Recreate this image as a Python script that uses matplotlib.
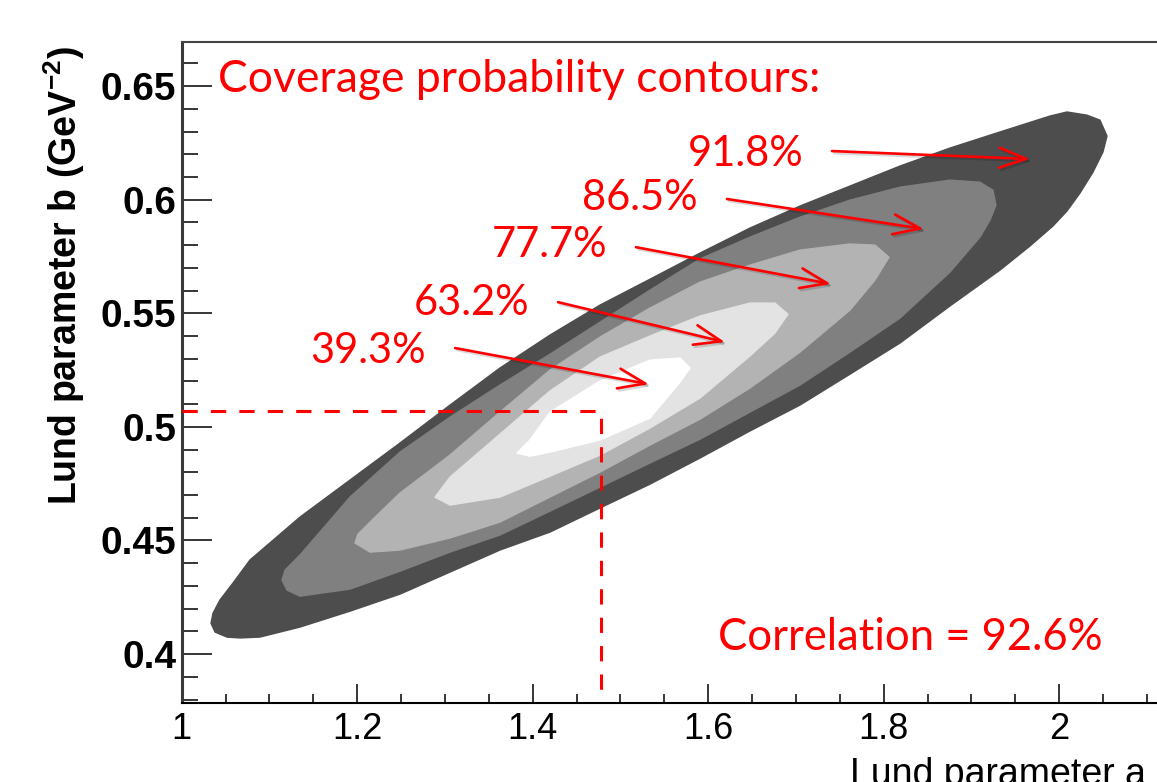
import numpy as np
import matplotlib
matplotlib.use("Agg")
import matplotlib.pyplot as plt
import matplotlib.patheffects as pe
from matplotlib.ticker import MultipleLocator, FormatStrFormatter

plt.rcParams['mathtext.fontset'] = 'custom'
plt.rcParams['mathtext.rm'] = 'Liberation Sans:bold'
plt.rcParams['mathtext.default'] = 'regular'

# best fit (dashed red lines)
a_best = 1.478
b_best = 0.507

# coverage probability contours (outermost first)
levels = ["91.8%", "86.5%", "77.7%", "63.2%", "39.3%"]
shades = ["#4d4d4d", "#808080", "#b3b3b3", "#e3e3e3", "#ffffff"]

a_918 = [1.0334, 1.0380, 1.0516, 1.0664, 1.0892, 1.1348, 1.1918, 1.2488, 1.3058, 1.3627,
         1.4197, 1.4767, 1.5337, 1.5907, 1.6476, 1.7046, 1.7616, 1.8186, 1.8755, 1.9325,
         1.9667, 1.9929, 2.0089, 2.0237, 2.0385, 2.0499, 2.0545, 2.0465, 2.0317, 2.0089,
         1.9895, 1.9325, 1.8755, 1.8186, 1.7616, 1.7046, 1.6476, 1.5907, 1.5337, 1.4767,
         1.4197, 1.3627, 1.3058, 1.2488, 1.1918, 1.1348, 1.0778, 1.0585, 1.0436, 1.0357]
b_918 = [0.4136, 0.4097, 0.4075, 0.4071, 0.4075, 0.4119, 0.4189, 0.4264, 0.4361, 0.4458,
         0.4537, 0.4643, 0.4748, 0.4863, 0.4982, 0.5096, 0.5232, 0.5369, 0.5532, 0.5690,
         0.5796, 0.5884, 0.5950, 0.6029, 0.6121, 0.6210, 0.6280, 0.6350, 0.6372, 0.6386,
         0.6368, 0.6298, 0.6227, 0.6148, 0.6060, 0.5972, 0.5875, 0.5765, 0.5650, 0.5536,
         0.5404, 0.5259, 0.5096, 0.4929, 0.4766, 0.4603, 0.4414, 0.4313, 0.4238, 0.4180]

a_865 = [1.1143, 1.1200, 1.1348, 1.1918, 1.2488, 1.3058, 1.3627, 1.4197, 1.4767, 1.5337,
         1.5907, 1.6476, 1.7046, 1.7616, 1.8186, 1.8755, 1.9097, 1.9212, 1.9280, 1.9245,
         1.9097, 1.8755, 1.8186, 1.7616, 1.7046, 1.6476, 1.5907, 1.5337, 1.4767, 1.4197,
         1.3627, 1.3058, 1.2488, 1.1918, 1.1348, 1.1178]
b_865 = [0.4326, 0.4282, 0.4255, 0.4286, 0.4365, 0.4449, 0.4524, 0.4629, 0.4735, 0.4841,
         0.4946, 0.5065, 0.5184, 0.5329, 0.5479, 0.5681, 0.5835, 0.5910, 0.5976, 0.6042,
         0.6077, 0.6086, 0.6055, 0.5998, 0.5923, 0.5835, 0.5739, 0.5602, 0.5461, 0.5320,
         0.5184, 0.5043, 0.4889, 0.4691, 0.4436, 0.4370]

a_777 = [1.1975, 1.2146, 1.2488, 1.3058, 1.3627, 1.4197, 1.4767, 1.5337, 1.5907, 1.6476,
         1.7046, 1.7616, 1.7901, 1.8061, 1.7901, 1.7616, 1.7046, 1.6476, 1.5907, 1.5337,
         1.4767, 1.4197, 1.3627, 1.3058, 1.2488, 1.2146, 1.2009]
b_777 = [0.4489, 0.4449, 0.4458, 0.4511, 0.4581, 0.4691, 0.4801, 0.4920, 0.5034, 0.5171,
         0.5329, 0.5514, 0.5646, 0.5747, 0.5800, 0.5805, 0.5778, 0.5712, 0.5637, 0.5523,
         0.5395, 0.5250, 0.5065, 0.4876, 0.4709, 0.4581, 0.4528]

a_632 = [1.2887, 1.3058, 1.3627, 1.4197, 1.4767, 1.5337, 1.5907, 1.6476, 1.6761, 1.6909,
         1.6761, 1.6476, 1.5907, 1.5337, 1.4767, 1.4197, 1.3627, 1.3058]
b_632 = [0.4691, 0.4656, 0.4691, 0.4783, 0.4876, 0.4995, 0.5127, 0.5312, 0.5413, 0.5496,
         0.5545, 0.5545, 0.5488, 0.5400, 0.5307, 0.5158, 0.4968, 0.4779]

a_393 = [1.3821, 1.3969, 1.4197, 1.4767, 1.5337, 1.5679, 1.5793, 1.5679, 1.5337, 1.4767,
         1.4197, 1.3969]
b_393 = [0.4885, 0.4871, 0.4889, 0.4942, 0.5039, 0.5197, 0.5259, 0.5303, 0.5294, 0.5202,
         0.5065, 0.4942]

contour_a = [a_918, a_865, a_777, a_632, a_393]
contour_b = [b_918, b_865, b_777, b_632, b_393]

# arrows: label position, arrow start, arrow end
label_a = [1.5770, 1.4562, 1.3536, 1.2647, 1.1462]
label_b = [0.6148, 0.5954, 0.5747, 0.5492, 0.5281]
arrow_from = [(1.7411, 0.6214), (1.6214, 0.6003), (1.5177, 0.5791), (1.4289, 0.5549), (1.3116, 0.5347)]
arrow_to = [(1.9667, 0.6179), (1.8459, 0.5871), (1.7399, 0.5629), (1.6192, 0.5373), (1.5325, 0.5188)]

correlation = 92.6

fig = plt.figure(figsize=(11.57, 7.82), dpi=100)
ax = fig.add_axes([181.7 / 1157, 79.5 / 782, 975.3 / 1157, 660.5 / 782])
ax.set_xlim(1.0, 2.1115)
ax.set_ylim(0.3787, 0.6694)

for xs, ys, c in zip(contour_a, contour_b, shades):
    ax.fill(xs, ys, color=c, lw=1.0, ec=c, joinstyle='round', zorder=1)

ax.plot([1.0, a_best, a_best], [b_best, b_best, 0.3787], color='#ff0000', lw=2.2,
        dashes=(5, 4.3), zorder=3, clip_on=False)

red = '#ff0000'
ax.text(1.0414, 0.6474, 'Coverage probability contours:', color=red, fontsize=32,
        family='Lato', ha='left', va='baseline')
ax.text(1.6111, 0.4018, 'Correlation = %.1f%%' % correlation, color=red, fontsize=31.4,
        family='Lato', ha='left', va='baseline')

shadow = [pe.SimpleLineShadow(offset=(1.5, -1.5), shadow_color='k', alpha=0.15), pe.Normal()]
for i in range(len(levels)):
    ax.text(label_a[i], label_b[i], levels[i], color=red, fontsize=30, family='Lato',
            ha='left', va='baseline', zorder=4)
    ax.annotate('', xy=arrow_to[i], xytext=arrow_from[i],
                arrowprops=dict(arrowstyle='->,head_length=0.97,head_width=0.36',
                                mutation_scale=20, color=red, lw=1.9,
                                shrinkA=0, shrinkB=0, path_effects=shadow),
                zorder=4)

# axes in ROOT style
ax.xaxis.set_major_locator(MultipleLocator(0.2))
ax.xaxis.set_minor_locator(MultipleLocator(0.05))
ax.yaxis.set_major_locator(MultipleLocator(0.05))
ax.yaxis.set_minor_locator(MultipleLocator(0.01))
ax.xaxis.set_major_formatter(FormatStrFormatter('%g'))
ax.yaxis.set_major_formatter(FormatStrFormatter('%g'))
ax.tick_params(axis='x', which='major', direction='in', length=13.7, width=1.1, pad=7,
               labelsize=26)
ax.tick_params(axis='x', which='minor', direction='in', length=6.8, width=1.1)
ax.tick_params(axis='y', which='major', direction='in', length=21.6, width=1.1, pad=4,
               labelsize=28)
ax.tick_params(axis='y', which='minor', direction='in', length=11.5, width=1.1)
for lab in ax.get_xticklabels():
    lab.set_family('Liberation Sans')
for lab in ax.get_yticklabels():
    lab.set_family('Liberation Sans')
    lab.set_fontweight('bold')

ax.spines['right'].set_visible(False)
ax.spines['left'].set_linewidth(2.2)
ax.spines['left'].set_color('#3a3a3a')
ax.spines['bottom'].set_linewidth(1.5)
ax.spines['top'].set_linewidth(1.5)
ax.spines['top'].set_color('#444444')

fig.text(77 / 1157, (782 - 276) / 782, r'Lund parameter b (GeV$^{-2}$)', rotation=90,
         rotation_mode='anchor', ha='center', va='baseline', fontsize=27,
         family='Liberation Sans', fontweight='bold')
fig.text(850 / 1157, (782 - 785) / 782, 'Lund parameter a', ha='left', va='baseline',
         fontsize=27, family='Liberation Sans')

fig.savefig('out.png', dpi=100)
